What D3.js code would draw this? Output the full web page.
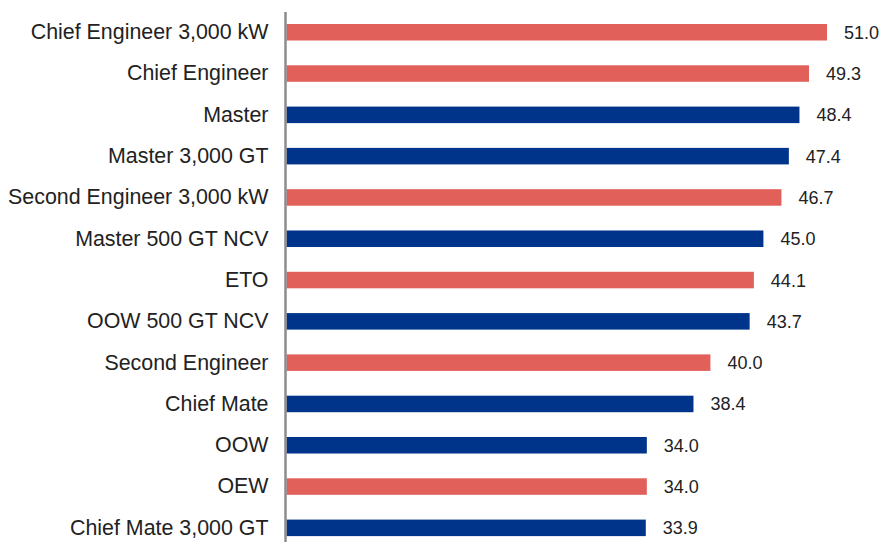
<!DOCTYPE html>
<html>
<head>
<meta charset="utf-8">
<script src="https://cdn.jsdelivr.net/npm/d3@7"></script>
<style>
  html, body { margin: 0; padding: 0; background: #fff; }
  svg { display: block; font-family: "Liberation Sans", Arial, sans-serif; }
</style>
</head>
<body>
<svg id="chart" width="881" height="542"></svg>
<script>
// Ranks, average ages and which department each rank belongs to
const ranks = [
  "Chief Engineer 3,000 kW", "Chief Engineer", "Master", "Master 3,000 GT",
  "Second Engineer 3,000 kW", "Master 500 GT NCV", "ETO", "OOW 500 GT NCV",
  "Second Engineer", "Chief Mate", "OOW", "OEW", "Chief Mate 3,000 GT"
];
const values = [51.0, 49.3, 48.4, 47.4, 46.7, 45.0, 44.1, 43.7, 40.0, 38.4, 34.0, 34.0, 33.9];
const departments = ["engine", "engine", "deck", "deck", "engine", "deck", "engine", "deck",
                     "engine", "deck", "deck", "engine", "deck"];

const colors = { engine: "#E1605A", deck: "#00338A" };

const svg = d3.select("#chart");
const x0 = 286.5;

const x = d3.scaleLinear().domain([0, 51]).range([x0, 827]);
const y = d3.scaleBand().domain(ranks).range([11.6, 548.5]).paddingInner(0.6).paddingOuter(0.3);

const rows = ranks.map((r, i) => ({ rank: r, value: values[i], dept: departments[i] }));

// bars
svg.append("g").selectAll("rect").data(rows).join("rect")
  .attr("x", x(0))
  .attr("y", d => y(d.rank))
  .attr("width", d => x(d.value) - x(0))
  .attr("height", y.bandwidth())
  .attr("fill", d => colors[d.dept]);

// value labels
svg.append("g").selectAll("text").data(rows).join("text")
  .attr("x", d => x(d.value) + 17)
  .attr("y", d => y(d.rank) + y.bandwidth() / 2)
  .attr("dy", "0.36em")
  .attr("font-size", 18)
  .attr("fill", "#222")
  .text(d => d3.format(".1f")(d.value));

// category axis
const axis = svg.append("g")
  .attr("transform", `translate(${x0 - 1},0)`)
  .call(d3.axisLeft(y).tickSize(0).tickPadding(17));
axis.select(".domain").remove();
axis.selectAll("text")
  .attr("font-size", 21.4)
  .attr("font-family", "'Liberation Sans', Arial, sans-serif")
  .attr("fill", "#222");

svg.append("line")
  .attr("x1", x0 - 1).attr("x2", x0 - 1)
  .attr("y1", 12).attr("y2", 542)
  .attr("stroke", "#8c8c8c")
  .attr("stroke-width", 2.5);
</script>
</body>
</html>
